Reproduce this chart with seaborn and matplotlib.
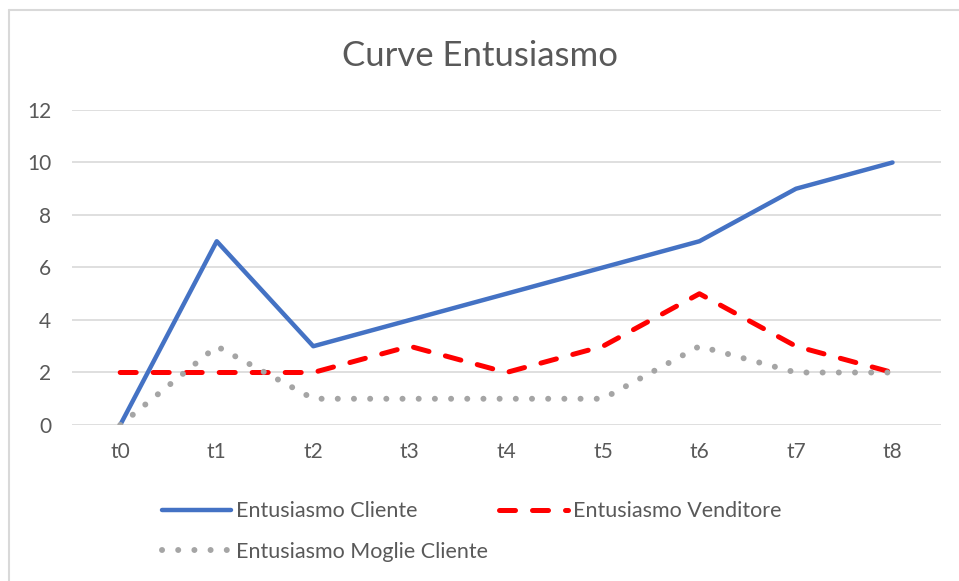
import pandas as pd
import matplotlib
matplotlib.use("Agg")
from matplotlib import pyplot as plt
from matplotlib.lines import Line2D
import seaborn as sns

# dati
tempi = ["t0", "t1", "t2", "t3", "t4", "t5", "t6", "t7", "t8"]
cliente = [0, 7, 3, 4, 5, 6, 7, 9, 10]
venditore = [2, 2, 2, 3, 2, 3, 5, 3, 2]
moglie = [0, 3, 1, 1, 1, 1, 3, 2, 2]

df = pd.DataFrame({
    "tempo": tempi,
    "Entusiasmo Cliente": cliente,
    "Entusiasmo Venditore": venditore,
    "Entusiasmo Moglie Cliente": moglie,
})

sns.set_style("white")
plt.rcParams["font.family"] = ["Lato", "DejaVu Sans"]
grigio_testo = "#595959"

fig = plt.figure(figsize=(9.59, 5.81), dpi=100)
ax = fig.add_axes([0.075, 0.2685, 0.906, 0.5422])

pos = list(range(len(tempi)))
sns.lineplot(x=pos, y=df["Entusiasmo Cliente"], ax=ax, color="#4472C4",
             linewidth=3.2, solid_capstyle="round", label="Entusiasmo Cliente")
sns.lineplot(x=pos, y=df["Entusiasmo Venditore"], ax=ax, color="#FF0000",
             linewidth=3.6, label="Entusiasmo Venditore")
sns.lineplot(x=pos, y=df["Entusiasmo Moglie Cliente"], ax=ax, color="#A5A5A5",
             linewidth=4.3, label="Entusiasmo Moglie Cliente")

linee = ax.get_lines()
linee[1].set_dashes([3.2, 3.4])
linee[1].set_dash_capstyle("round")
linee[2].set_dashes([0.01, 2.7])
linee[2].set_dash_capstyle("round")

ax.set_xlim(-0.5, 8.5)
ax.set_ylim(0, 12)
ax.set_yticks(range(0, 13, 2))
ax.set_xticks(pos)
ax.set_xticklabels(tempi)
ax.grid(axis="y", color="#D9D9D9", linewidth=1.2)
ax.set_axisbelow(True)
for s in ax.spines.values():
    s.set_visible(False)
ax.tick_params(axis="both", length=0, labelsize=15, colors=grigio_testo)
ax.tick_params(axis="x", pad=12)
ax.tick_params(axis="y", pad=15)
ax.set_xlabel("")
ax.set_ylabel("")

fig.text(0.5, 0.903, "Curve Entusiasmo", ha="center", va="center",
         fontsize=25, color=grigio_testo)

# legenda: riga 1 Cliente / Venditore, riga 2 Moglie
h, l = ax.get_legend_handles_labels()
ax.get_legend().remove()
ordine = [0, 2, 1]
fig.legend([h[i] for i in ordine], [l[i] for i in ordine], ncol=2,
           loc="upper left", bbox_to_anchor=(0.160, 0.152), frameon=False,
           fontsize=15.5, labelcolor=grigio_testo, handlelength=3.2,
           handletextpad=0.25, columnspacing=0.5, labelspacing=0.95,
           borderaxespad=0)

# bordo del riquadro del grafico
fig.add_artist(Line2D([0.009, 1.0], [0.983, 0.983], transform=fig.transFigure,
                      color="#D9D9D9", linewidth=1.5))
fig.add_artist(Line2D([0.009, 0.009], [0.0, 0.983], transform=fig.transFigure,
                      color="#D9D9D9", linewidth=1.5))

fig.savefig("out.png", dpi=100)
